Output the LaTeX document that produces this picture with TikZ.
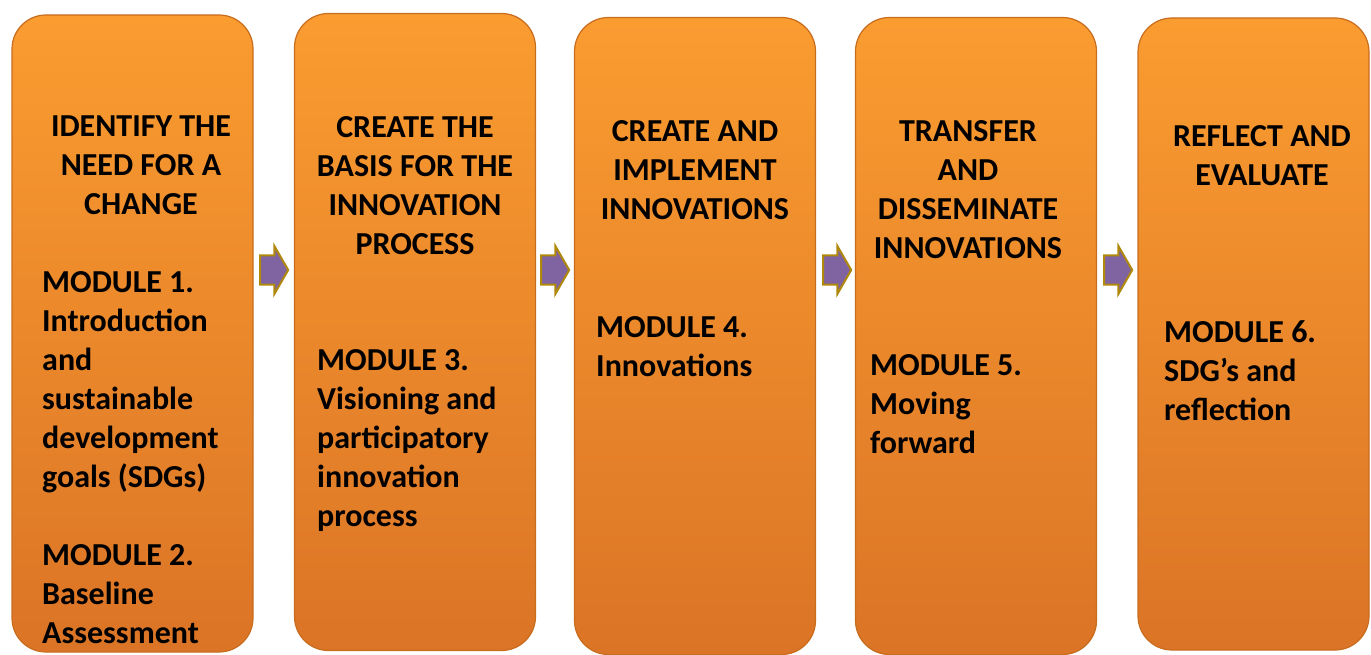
\documentclass[tikz,border=0pt]{standalone}
\usepackage{fontspec}
\setmainfont{Carlito}
\usetikzlibrary{shapes.arrows}
\definecolor{boxtop}{RGB}{250,156,48}
\definecolor{boxbottom}{RGB}{219,116,38}
\definecolor{boxedge}{RGB}{200,108,30}
\definecolor{arrowfill}{RGB}{128,100,162}
\definecolor{arrowedge}{RGB}{176,136,10}
\begin{document}
\begin{tikzpicture}[x=1pt,y=-1pt,
    module box/.style={draw=boxedge,line width=1.2pt,rounded corners=34pt,
      top color=boxtop,bottom color=boxbottom,minimum width=241pt,
      minimum height=637pt,inner sep=0pt},
    head text/.style={font=\bfseries\fontsize{32}{39}\selectfont,align=center,
      anchor=north,inner sep=0pt},
    body text/.style={font=\bfseries\fontsize{32}{39}\selectfont,align=left,
      anchor=north west,inner sep=0pt},
    flow arrow/.style={single arrow,draw=arrowedge,fill=arrowfill,line width=2pt,
      inner xsep=0pt,inner ysep=10pt,minimum width=48pt,minimum height=28pt,
      single arrow tip angle=120}]
    \useasboundingbox (0,0) rectangle (1371,655);

    % the five stages
    \node[module box] (box1) at (132.5,333.5) {};
    \node[module box] (box2) at (415,332) {};
    \node[module box] (box3) at (695,336) {};
    \node[module box] (box4) at (976,336) {};
    \node[module box,minimum width=231pt,minimum height=632pt] (box5) at (1253.5,334) {};

    \node[head text] (head1) at (141,116) {IDENTIFY THE\\NEED FOR A\\CHANGE};
    \node[body text] (body1) at (42,271) {MODULE 1.\\Introduction\\and\\sustainable\\development\\goals (SDGs)\\[39pt]MODULE 2.\\Baseline\\Assessment};

    \node[head text] (head2) at (415,116) {CREATE THE\\BASIS FOR THE\\INNOVATION\\PROCESS};
    \node[body text] (body2) at (317,349) {MODULE 3.\\Visioning and\\participatory\\innovation\\process};

    \node[head text] (head3) at (695,120) {CREATE AND\\IMPLEMENT\\INNOVATIONS};
    \node[body text] (body3) at (596,316) {MODULE 4.\\Innovations};

    \node[head text] (head4) at (968,120) {TRANSFER\\AND\\DISSEMINATE\\INNOVATIONS};
    \node[body text] (body4) at (870,354) {MODULE 5.\\Moving\\forward};

    \node[head text] (head5) at (1262,125) {REFLECT AND\\EVALUATE};
    \node[body text] (body5) at (1164,320) {MODULE 6.\\SDG’s and\\reflection};

    % arrows between the stages
    \node[flow arrow] (arrow1) at (270,270) {};
    \node[flow arrow] (arrow2) at (551,270) {};
    \node[flow arrow] (arrow3) at (833,270) {};
    \node[flow arrow] (arrow4) at (1114,270) {};
  \end{tikzpicture}
\end{document}
